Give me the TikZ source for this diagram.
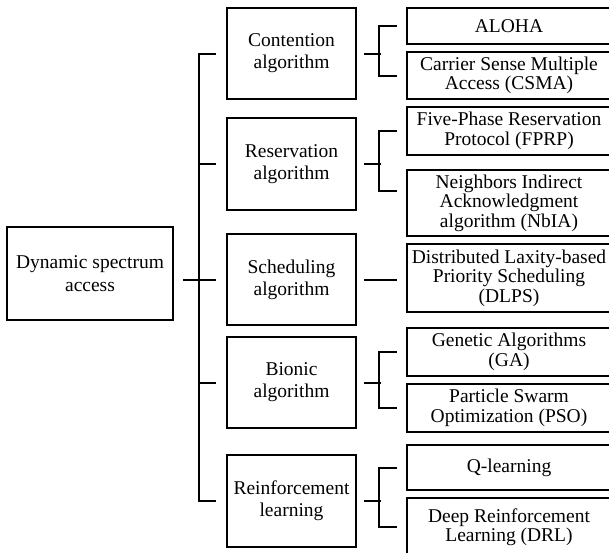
\documentclass[tikz,border=0pt]{standalone}
\usepackage{fontspec}
\setmainfont{Liberation Serif}
\usetikzlibrary{calc}
\begin{document}
\begin{tikzpicture}[x=1pt,y=-1pt,
  box/.style={draw, line width=2pt, align=center, inner sep=0pt},
  midbox/.style={box, minimum width=129pt, font=\fontsize{19.5}{22}\selectfont},
  leafbox/.style={box, minimum width=204pt, font=\fontsize{19.5}{19.5}\selectfont},
  conn/.style={line width=2pt}]
\useasboundingbox (0,0) rectangle (609,552);
% root
\node[box, minimum width=166pt, minimum height=93pt, font=\fontsize{19.5}{23}\selectfont] (root) at (90,273.5) {Dynamic spectrum\\access};
% level 2
\node[midbox, minimum height=91pt] (cont) at (291.5,53.5) {Contention\\algorithm};
\node[midbox, minimum height=92pt] (resv) at (291.5,164) {Reservation\\algorithm};
\node[midbox, minimum height=91pt] (sched) at (291.5,279.5) {Scheduling\\algorithm};
\node[midbox, minimum height=91pt] (bion) at (291.5,382.5) {Bionic\\algorithm};
\node[midbox, minimum height=92pt] (reinf) at (291.5,501) {Reinforcement\\learning};
% leaves
\node[leafbox, minimum height=36pt] (aloha) at (509,26) {ALOHA};
\node[leafbox, minimum height=47pt] (csma) at (509,75.5) {Carrier Sense Multiple\\Access (CSMA)};
\node[leafbox, minimum height=48pt] (fprp) at (509,131) {Five-Phase Reservation\\Protocol (FPRP)};
\node[leafbox, minimum height=66pt] (nbia) at (509,203) {Neighbors Indirect\\Acknowledgment\\algorithm (NbIA)};
\node[leafbox, minimum height=68pt] (dlps) at (509,278) {Distributed Laxity-based\\Priority Scheduling\\(DLPS)};
\node[leafbox, minimum height=48pt] (ga) at (509,352) {Genetic Algorithms\\(GA)};
\node[leafbox, minimum height=48pt] (pso) at (509,408) {Particle Swarm\\Optimization (PSO)};
\node[leafbox, minimum height=45pt] (ql) at (509,467.5) {Q-learning};
\node[leafbox, minimum height=58pt] (drl) at (509,527) {Deep Reinforcement\\Learning (DRL)};
% trunk
\draw[conn] ([xshift=-10pt]cont.west) -- ++(-17,0) |- ([xshift=-10pt]reinf.west);
\draw[conn] ([xshift=-10pt]resv.west) -- ++(-17,0);
\draw[conn] ([xshift=-10pt]bion.west) -- ++(-17,0);
\draw[conn] (root.east |- sched.west) ++(9,0) -- ([xshift=-10pt]sched.west);
% contention
\draw[conn] ([xshift=7pt]cont.east) -- ++(17,0);
\draw[conn] ([xshift=-9pt]aloha.west) -- ++(-18,0) |- ([xshift=-9pt]csma.west);
% reservation
\draw[conn] ([xshift=7pt]resv.east) -- ++(17,0);
\draw[conn] ([xshift=-9pt]fprp.west) -- ++(-18,0) |- ([xshift=-9pt,yshift=12pt]nbia.west);
% scheduling
\draw[conn] ([xshift=7pt]sched.east) -- ([xshift=-9pt]dlps.west |- sched.east);
% bionic
\draw[conn] ([xshift=7pt]bion.east) -- ++(17,0);
\draw[conn] ([xshift=-9pt]ga.west) -- ++(-18,0) |- ([xshift=-9pt]pso.west);
% reinforcement
\draw[conn] ([xshift=7pt]reinf.east) -- ++(17,0);
\draw[conn] ([xshift=-9pt]ql.west) -- ++(-18,0) |- ([xshift=-9pt]drl.west);
\end{tikzpicture}
\end{document}
